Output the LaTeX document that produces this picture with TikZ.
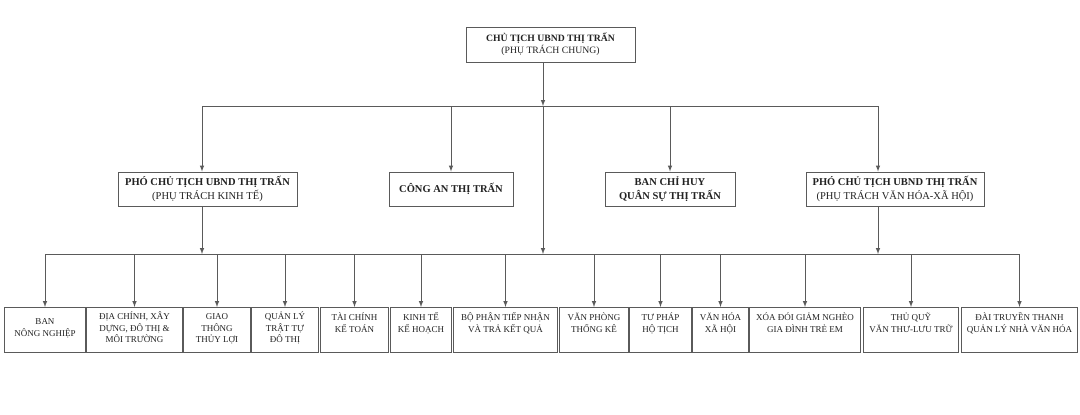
\documentclass[tikz,border=0pt]{standalone}
\usepackage{fontspec}
\setmainfont{Liberation Serif}
\usepackage{xcolor}
\usepackage{tikz}
\usetikzlibrary{positioning}
\usetikzlibrary{arrows}
\usetikzlibrary{calc}
\definecolor{linegray}{HTML}{5A5A5A}
\definecolor{textgray}{HTML}{222222}
\newcommand{\unittext}[3][5pt]{\parbox[c][45pt][t]{#2}{\centering\fontsize{9}{11.5}\selectfont\vspace*{#1}\strut #3}}
\tikzset{
  line/.style={draw=linegray, line width=1pt},
  arr/.style={line, -latex},
  unitbox/.style={draw=linegray, line width=1pt, inner sep=0pt, anchor=north west, text=textgray},
  leadbox/.style={draw=linegray, line width=1pt, align=center, inner sep=0pt, minimum height=34pt, text=textgray, font=\fontsize{10.5}{13.3}\selectfont},
}

\begin{document}
\begin{tikzpicture}[x=1pt,y=-1pt]
  \useasboundingbox[fill=white] (0,0) rectangle (1080,415);
  % top
  \node[leadbox, minimum width=169pt, minimum height=35pt, font=\fontsize{9.7}{12}\selectfont] (chair) at (550.5,44.5) {\textbf{CHỦ TỊCH UBND THỊ TRẤN}\\(PHỤ TRÁCH CHUNG)};
  % middle row
  \node[leadbox, minimum width=179pt] (vp1) at (207.5,189) {\textbf{PHÓ CHỦ TỊCH UBND THỊ TRẤN}\\(PHỤ TRÁCH KINH TẾ)};
  \node[leadbox, minimum width=124pt] (police) at (451,189) {\textbf{CÔNG AN THỊ TRẤN}};
  \node[leadbox, minimum width=130pt] (army) at (670,189) {\textbf{BAN CHỈ HUY}\\\textbf{QUÂN SỰ THỊ TRẤN}};
  \node[leadbox, minimum width=178pt] (vp2) at (895,189) {\textbf{PHÓ CHỦ TỊCH UBND THỊ TRẤN}\\(PHỤ TRÁCH VĂN HÓA-XÃ HỘI)};
  % bottom row
  \node[unitbox] (b1) at (4,307) {\unittext[9pt]{81pt}{BAN\\NÔNG NGHIỆP}};
  \node[unitbox] (b2) at (86,307) {\unittext[4pt]{96pt}{ĐỊA CHÍNH, XÂY\\DỰNG, ĐÔ THỊ \&\\MÔI TRƯỜNG}};
  \node[unitbox] (b3) at (183,307) {\unittext[4pt]{67pt}{GIAO\\THÔNG\\THỦY LỢI}};
  \node[unitbox] (b4) at (251,307) {\unittext[4pt]{67pt}{QUẢN LÝ\\TRẬT TỰ\\ĐÔ THỊ}};
  \node[unitbox] (b5) at (320,307) {\unittext{68pt}{TÀI CHÍNH\\KẾ TOÁN}};
  \node[unitbox] (b6) at (390,307) {\unittext{61pt}{KINH TẾ\\KẾ HOẠCH}};
  \node[unitbox] (b7) at (453,307) {\unittext{104pt}{BỘ PHẬN TIẾP NHẬN\\VÀ TRẢ KẾT QUẢ}};
  \node[unitbox] (b8) at (559,307) {\unittext{69pt}{VĂN PHÒNG\\THỐNG KÊ}};
  \node[unitbox] (b9) at (629,307) {\unittext{62pt}{TƯ PHÁP\\HỘ TỊCH}};
  \node[unitbox] (b10) at (692,307) {\unittext{56pt}{VĂN HÓA\\XÃ HỘI}};
  \node[unitbox] (b11) at (749,307) {\unittext{111pt}{XÓA ĐÓI GIẢM NGHÈO\\GIA ĐÌNH TRẺ EM}};
  \node[unitbox] (b12) at (863,307) {\unittext{95pt}{THỦ QUỸ\\VĂN THƯ-LƯU TRỮ}};
  \node[unitbox] (b13) at (961,307) {\unittext{116pt}{ĐÀI TRUYỀN THANH\\QUẢN LÝ NHÀ VĂN HÓA}};
  % buses
  \coordinate (topout) at ([xshift=-7.5pt]chair.south);
  \coordinate (upL) at (202,106);
  \coordinate (upR) at (878,106);
  \coordinate (lowL) at (38,254);
  \draw[line] (upL) -- (upR);
  \draw[line] (b1.north |- lowL) -- (b13.north |- lowL);
  \draw[arr] (topout) -- (topout |- upL);
  \draw[arr] (topout |- upL) -- (topout |- lowL);
  \draw[arr] (upL) -- (upL |- vp1.north);
  \draw[arr] (police.north |- upL) -- (police.north);
  \draw[arr] (army.north |- upL) -- (army.north);
  \draw[arr] (upR) -- (upR |- vp2.north);
  \draw[arr] (upL |- vp1.south) -- (upL |- lowL);
  \draw[arr] (upR |- vp2.south) -- (upR |- lowL);
  \foreach \i in {1,...,13}
    \draw[arr] (b\i.north |- lowL) -- (b\i.north);
\end{tikzpicture}
\end{document}
